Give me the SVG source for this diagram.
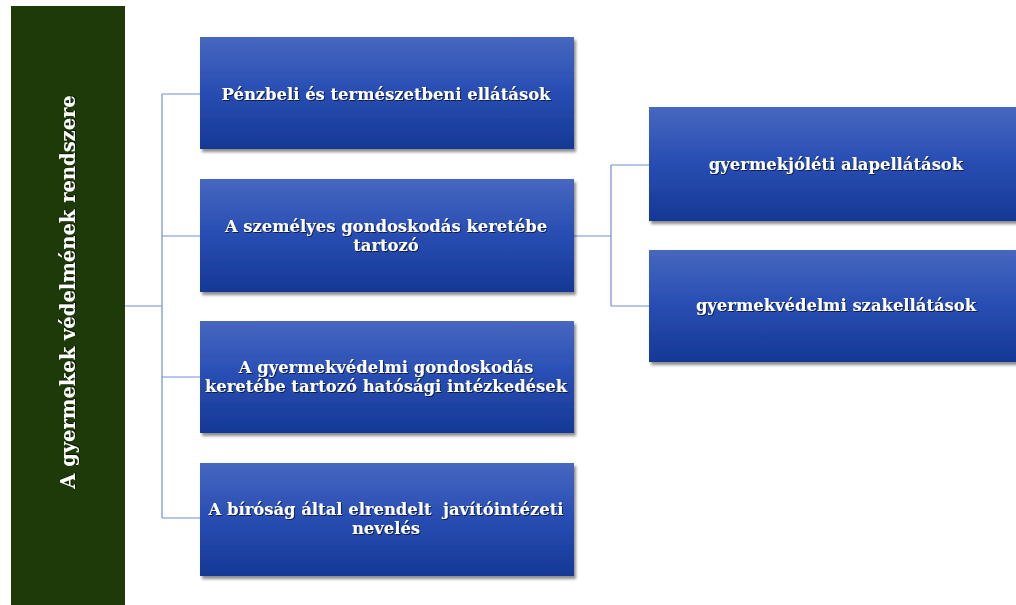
<svg xmlns="http://www.w3.org/2000/svg" width="1016" height="605" viewBox="0 0 1016 605">
<defs>
<linearGradient id="bg" x1="0" y1="0" x2="0" y2="1">
<stop offset="0" stop-color="#4767bf"/>
<stop offset="0.45" stop-color="#2a4fb5"/>
<stop offset="1" stop-color="#153895"/>
</linearGradient>
<filter id="sh" x="-5%" y="-10%" width="115%" height="130%">
<feDropShadow dx="2" dy="3" stdDeviation="1.5" flood-color="#000" flood-opacity="0.45"/>
</filter>
<filter id="ts" x="-5%" y="-20%" width="110%" height="150%">
<feDropShadow dx="1" dy="1" stdDeviation="0.6" flood-color="#000" flood-opacity="0.6"/>
</filter>
</defs>
<style>
.box{fill:url(#bg);filter:url(#sh);}
.t{font-family:"DejaVu Serif","Liberation Serif",serif;font-weight:bold;font-size:16.4px;fill:#fff;text-anchor:middle;filter:url(#ts);white-space:pre;}
.c{fill:none;stroke:#6f8fd6;stroke-width:1.2;}
</style>
<rect width="1016" height="605" fill="#fff"/>
<g id="root">
<rect x="11" y="6" width="114" height="599" fill="#1d3a08"/>
<text class="t" style="font-size:19.5px" transform="translate(75,292) rotate(-90)">A gyermekek védelmének rendszere</text>
</g>
<g id="connectors">
<path class="c" d="M125 306H162M162 94V518M162 94H200M162 236H200M162 377H200M162 518H200"/>
<path class="c" d="M574 236H611M611 165V306M611 165H649M611 306H649"/>
</g>
<g id="n1">
<rect class="box" x="200" y="37" width="374" height="112"/>
<text class="t" x="386" y="100">Pénzbeli és természetbeni ellátások</text>
</g>
<g id="n2">
<rect class="box" x="200" y="179" width="374" height="113"/>
<text class="t" x="386" y="232">A személyes gondoskodás keretébe</text>
<text class="t" x="386" y="251">tartozó</text>
</g>
<g id="n3">
<rect class="box" x="200" y="321" width="374" height="112"/>
<text class="t" x="386" y="373">A gyermekvédelmi gondoskodás</text>
<text class="t" x="386" y="392">keretébe tartozó hatósági intézkedések</text>
</g>
<g id="n4">
<rect class="box" x="200" y="463" width="374" height="113"/>
<text class="t" x="386" y="515">A bíróság által elrendelt  javítóintézeti</text>
<text class="t" x="386" y="534">nevelés</text>
</g>
<g id="n5">
<rect class="box" x="649" y="107" width="380" height="114"/>
<text class="t" x="836" y="170">gyermekjóléti alapellátások</text>
</g>
<g id="n6">
<rect class="box" x="649" y="250" width="380" height="112"/>
<text class="t" x="836" y="311">gyermekvédelmi szakellátások</text>
</g>
</svg>
